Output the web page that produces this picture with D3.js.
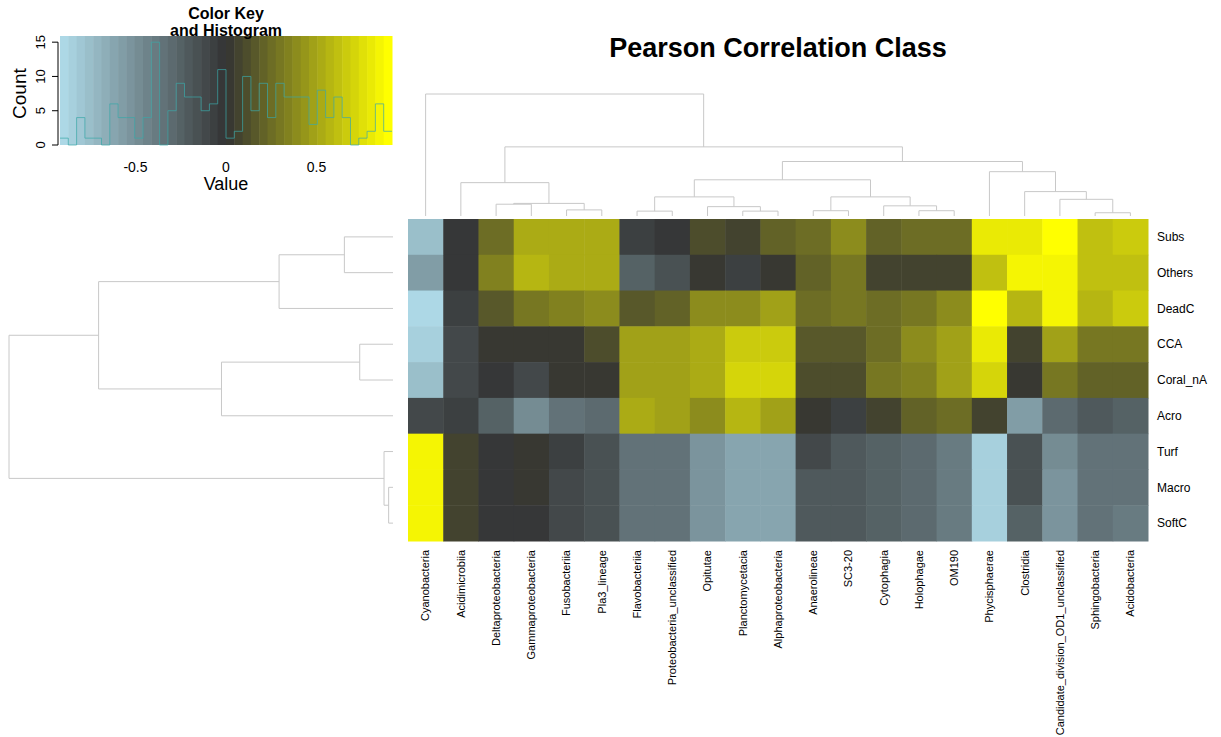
<!DOCTYPE html>
<html>
<head>
<meta charset="utf-8">
<script src="https://cdn.jsdelivr.net/npm/d3@7"></script>
<style>
  body { margin: 0; background: #fff; }
  text { font-family: "Liberation Sans", Arial, Helvetica, sans-serif; }
</style>
</head>
<body>
<svg id="chart" width="1221" height="737"></svg>
<script>
// Labels (column order as plotted, left to right / top to bottom)
const colLabels = ["Cyanobacteria", "Acidimicrobiia", "Deltaproteobacteria", "Gammaproteobacteria",
  "Fusobacteriia", "Pla3_lineage", "Flavobacteriia", "Proteobacteria_unclassified", "Opitutae",
  "Planctomycetacia", "Alphaproteobacteria", "Anaerolineae", "SC3-20", "Cytophagia", "Holophagae",
  "OM190", "Phycisphaerae", "Clostridia", "Candidate_division_OD1_unclassified", "Sphingobacteria",
  "Acidobacteria"];
const rowLabels = ["Subs", "Others", "DeadC", "CCA", "Coral_nA", "Acro", "Turf", "Macro", "SoftC"];

// Pearson correlations (one array per row)
const subs    = [-0.76, -0.01, 0.27, 0.53, 0.53, 0.53, -0.05, -0.01, 0.13, 0.09, 0.19, 0.27, 0.39, 0.19, 0.25, 0.25, 0.82, 0.82, 0.90, 0.62, 0.68];
const others  = [-0.59, -0.01, 0.34, 0.59, 0.53, 0.53, -0.25, -0.14, 0.00, -0.08, 0.00, 0.19, 0.32, 0.09, 0.09, 0.09, 0.62, 0.86, 0.86, 0.62, 0.62];
const deadC   = [-0.90, -0.08, 0.17, 0.29, 0.34, 0.40, 0.14, 0.19, 0.40, 0.40, 0.46, 0.27, 0.32, 0.27, 0.29, 0.40, 0.90, 0.59, 0.86, 0.59, 0.67];
const cca     = [-0.83, -0.13, 0.00, 0.00, 0.03, 0.13, 0.50, 0.46, 0.54, 0.67, 0.67, 0.15, 0.15, 0.27, 0.40, 0.46, 0.78, 0.08, 0.47, 0.29, 0.32];
const coralNA = [-0.76, -0.13, -0.03, -0.12, 0.00, 0.03, 0.50, 0.46, 0.54, 0.70, 0.70, 0.11, 0.11, 0.29, 0.36, 0.46, 0.70, 0.00, 0.29, 0.19, 0.19];
const acro    = [-0.13, -0.07, -0.24, -0.47, -0.35, -0.28, 0.54, 0.46, 0.39, 0.59, 0.50, 0.00, -0.07, 0.09, 0.19, 0.25, 0.09, -0.57, -0.28, -0.20, -0.25];
const turf    = [0.86, 0.07, -0.03, 0.00, -0.07, -0.17, -0.35, -0.35, -0.51, -0.62, -0.62, -0.12, -0.20, -0.25, -0.30, -0.38, -0.83, -0.17, -0.50, -0.35, -0.35];
const macro   = [0.86, 0.07, -0.03, 0.00, -0.12, -0.17, -0.35, -0.35, -0.51, -0.62, -0.62, -0.20, -0.20, -0.25, -0.30, -0.38, -0.83, -0.17, -0.55, -0.35, -0.35];
const softC   = [0.86, 0.07, -0.03, -0.03, -0.12, -0.17, -0.35, -0.35, -0.51, -0.62, -0.62, -0.20, -0.20, -0.25, -0.30, -0.38, -0.83, -0.25, -0.55, -0.35, -0.40];
const values = [subs, others, deadC, cca, coralNA, acro, turf, macro, softC];

// Dendrograms in hclust "merge" style: negative = leaf (1-based), positive = earlier merge; third = height
const colMerge = [
  [-3, -4, 0.29], [-5, -6, 0.15], [1, 2, 0.31], [-2, 3, 0.82],
  [-7, -8, 0.12], [-10, -11, 0.12], [-9, 6, 0.23], [5, 7, 0.47],
  [-15, -16, 0.13], [-14, 9, 0.25], [-12, -13, 0.13], [11, 10, 0.47],
  [8, 12, 0.89], [-20, -21, 0.08], [-19, 14, 0.41], [-18, 15, 0.60],
  [-17, 16, 1.09], [13, 17, 1.34], [4, 18, 1.70], [-1, 19, 3.0]
];
const rowMerge = [
  [-1, -2, 0.38], [1, -3, 0.89], [-4, -5, 0.26], [3, -6, 1.34],
  [2, 4, 2.30], [-8, -9, 0.034], [-7, 6, 0.07], [5, 7, 3.0]
];

// Colour key: 40 bins and histogram counts
const keyRange = [-0.917, 0.917];
const nBins = 40;
const histCounts = [1, 0, 4, 1, 1, 0, 6, 4, 4, 1, 4, 15, 0, 5, 9, 7, 7, 5, 6, 11,
  1, 2, 10, 5, 9, 4, 9, 7, 7, 7, 3, 8, 4, 7, 4, 0, 1, 2, 6, 2];
const keyTicksX = [-0.5, 0, 0.5];
const keyTicksY = [0, 5, 10, 15];

const svg = d3.select("#chart");
const W = 1221, H = 737;
svg.append("rect").attr("width", W).attr("height", H).attr("fill", "#fff");

const ramp = d3.piecewise(d3.interpolateRgb, ["#add8e6", "#333333", "#ffff00"]);
const binColors = d3.range(nBins).map(k => ramp(k / (nBins - 1)));
const color = d3.scaleQuantize().domain(keyRange).range(binColors);

// ---- heatmap
const x = d3.scaleBand().domain(d3.range(colLabels.length)).range([408, 1148]);
const y = d3.scaleBand().domain(d3.range(rowLabels.length)).range([219, 541]);

const cells = [];
values.forEach((row, i) => row.forEach((v, j) => cells.push({ i, j, v })));
svg.append("g").selectAll("rect").data(cells).join("rect")
  .attr("x", d => x(d.j)).attr("y", d => y(d.i))
  .attr("width", x.bandwidth() + 0.5).attr("height", y.bandwidth() + 0.5)
  .attr("fill", d => color(d.v));

svg.append("g").selectAll("text").data(rowLabels).join("text")
  .attr("x", 1157).attr("y", (d, i) => y(i) + y.bandwidth() / 2)
  .attr("dy", "0.35em").attr("font-size", 12).attr("fill", "#000")
  .text(d => d);

svg.append("g").selectAll("text").data(colLabels).join("text")
  .attr("transform", (d, i) => `translate(${x(i) + x.bandwidth() / 2},550) rotate(-90)`)
  .attr("dy", "0.35em").attr("text-anchor", "end").attr("font-size", 11).attr("fill", "#000")
  .text(d => d);

// ---- dendrograms
function dendroPaths(merge, leafPos, hScale, vertical) {
  const pos = [], hts = [], paths = [];
  merge.forEach(([a, b, h]) => {
    const get = k => k < 0 ? [leafPos(-k - 1), 0] : [pos[k - 1], hts[k - 1]];
    const [p1, h1] = get(a), [p2, h2] = get(b);
    pos.push((p1 + p2) / 2);
    hts.push(h);
    if (vertical) {
      paths.push(`M${p1},${hScale(h1)}V${hScale(h)}H${p2}V${hScale(h2)}`);
    } else {
      paths.push(`M${hScale(h1)},${p1}H${hScale(h)}V${p2}H${hScale(h2)}`);
    }
  });
  return paths;
}

const colH = d3.scaleLinear().domain([0, 3]).range([216, 94]);
const rowH = d3.scaleLinear().domain([0, 3]).range([393, 9]);

svg.append("g").selectAll("path")
  .data(dendroPaths(colMerge, i => x(i) + x.bandwidth() / 2, colH, true)).join("path")
  .attr("d", d => d).attr("fill", "none").attr("stroke", "#c8c8c8").attr("stroke-width", 1);

svg.append("g").selectAll("path")
  .data(dendroPaths(rowMerge, i => y(i) + y.bandwidth() / 2, rowH, false)).join("path")
  .attr("d", d => d).attr("fill", "none").attr("stroke", "#c8c8c8").attr("stroke-width", 1);

// ---- title
svg.append("text").attr("x", 778).attr("y", 57).attr("text-anchor", "middle")
  .attr("font-size", 27).attr("font-weight", "bold").text("Pearson Correlation Class");

// ---- colour key + histogram
const kx = d3.scaleLinear().domain(keyRange).range([60, 392]);
const ky = d3.scaleLinear().domain([0, 15.9]).range([145, 36]);
const binW = (keyRange[1] - keyRange[0]) / nBins;
const edges = d3.range(nBins + 1).map(k => keyRange[0] + k * binW);

const key = svg.append("g");
key.selectAll("rect").data(binColors).join("rect")
  .attr("x", (d, k) => kx(edges[k])).attr("y", ky.range()[1])
  .attr("width", (d, k) => kx(edges[k + 1]) - kx(edges[k]) + 0.5)
  .attr("height", ky.range()[0] - ky.range()[1])
  .attr("fill", d => d);

const stepPts = histCounts.map((c, k) => [edges[k], c]).concat([[edges[nBins], histCounts[nBins - 1]]]);
key.append("path")
  .attr("d", d3.line().x(d => kx(d[0])).y(d => ky(d[1])).curve(d3.curveStepAfter)(stepPts))
  .attr("fill", "none").attr("stroke", "#3aa8a8").attr("stroke-width", 1).attr("opacity", 0.7);

// y axis (count)
key.append("line").attr("x1", 58).attr("x2", 58)
  .attr("y1", ky(keyTicksY[0])).attr("y2", ky(keyTicksY[keyTicksY.length - 1]))
  .attr("stroke", "#000");
key.selectAll(".yt").data(keyTicksY).join("line")
  .attr("x1", 52).attr("x2", 58).attr("y1", d => ky(d)).attr("y2", d => ky(d)).attr("stroke", "#000");
key.selectAll(".yl").data(keyTicksY).join("text")
  .attr("transform", d => `translate(45,${ky(d)}) rotate(-90)`)
  .attr("text-anchor", "middle").attr("font-size", 13).text(d => d);
key.append("text").attr("transform", `translate(26,${(ky(0) + ky(15)) / 2}) rotate(-90)`)
  .attr("text-anchor", "middle").attr("font-size", 19).text("Count");

// x axis (value)
key.selectAll(".xl").data(keyTicksX).join("text")
  .attr("x", d => kx(d)).attr("y", 172).attr("text-anchor", "middle").attr("font-size", 14)
  .text(d => d === 0 ? "0" : d);
key.append("text").attr("x", (kx.range()[0] + kx.range()[1]) / 2).attr("y", 190)
  .attr("text-anchor", "middle").attr("font-size", 18).text("Value");

key.append("text").attr("x", 226).attr("y", 19).attr("text-anchor", "middle")
  .attr("font-size", 16).attr("font-weight", "bold").text("Color Key");
key.append("text").attr("x", 226).attr("y", 36).attr("text-anchor", "middle")
  .attr("font-size", 16).attr("font-weight", "bold").text("and Histogram");
</script>
</body>
</html>
